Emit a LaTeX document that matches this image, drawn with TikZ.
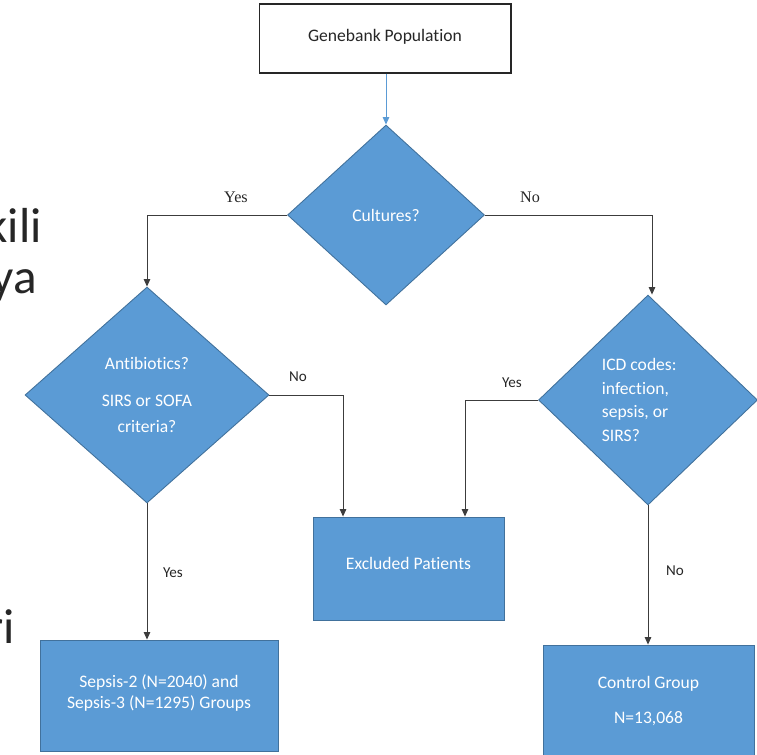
\documentclass[tikz,border=0pt]{standalone}
\usepackage{fontspec}
\setmainfont{Carlito}[Ligatures=NoCommon]
\newfontfamily\serifnote{Liberation Serif}
\usetikzlibrary{shapes.geometric, arrows.meta}
\definecolor{cFill}{RGB}{91,155,213}
\definecolor{cEdge}{RGB}{65,113,156}
\definecolor{cLine}{RGB}{60,60,60}
\definecolor{cInk}{RGB}{38,38,38}
\tikzset{
	startbox/.style={rectangle, draw=cInk, fill=white, line width=0.6pt, minimum width=5.04cm, minimum height=1.38cm, text centered, align=center, text=cInk},
	bluebox/.style ={rectangle, draw=cEdge, fill=cFill, line width=0.5pt, text centered, align=center, text=white},
	decision/.style={diamond, draw=cEdge, fill=cFill, line width=0.5pt, inner sep=1pt, text=white},
	flowarrow/.style={-{Triangle[length=1.5mm, width=1.3mm]}, draw=cLine, line width=0.55pt},
	bluearrow/.style={-{Triangle[length=1.5mm, width=1.3mm]}, draw=cFill, line width=0.55pt},
	sidenote/.style={font=\fontsize{8.6}{10}\selectfont, text=cInk, inner sep=0pt},
	topnote/.style={font=\serifnote\fontsize{9.2}{11}\selectfont, text=cInk, inner sep=0pt},
	% cut-off slide words at the left edge
	slideword/.style={font=\fontsize{28}{34}\selectfont, text=cInk, inner sep=0pt, anchor=base east},
}

\begin{document}
\begin{tikzpicture}[x=0.02cm, y=-0.02cm, font=\fontsize{10}{13.6}\selectfont]
	\useasboundingbox (0,0) rectangle (757,754);
	\clip (0,0) rectangle (757,754);

	\node[slideword] (frag1) at (42,242) {kili};
	\node[slideword] (frag2) at (37,293) {ya};
	\node[slideword] (frag3) at (15,643) {ri};

	\node[startbox] (gene) at (385,38.5) {\raisebox{3pt}{Genebank Population}};
	\node[decision, minimum width=3.94cm, minimum height=3.6cm] (cult) at (386,215) {Cultures?};
	\node[decision, minimum width=4.88cm, minimum height=4.32cm, align=center] (abx) at (147,395)
		{Antibiotics?\\[7.4pt]SIRS or SOFA\\[0.8pt]criteria?};
	\node[decision, minimum width=4.38cm, minimum height=4.2cm, align=left] (icd) at (648,400)
		{\hspace*{-10pt}\fontsize{10}{14.2}\selectfont ICD codes:\\\hspace*{-10pt}infection,\\\hspace*{-10pt}sepsis, or\\\hspace*{-10pt}SIRS?};

	\node[bluebox, minimum width=3.82cm, minimum height=2.06cm] (excl) at (408.5,568.5) {\raisebox{6pt}{Excluded Patients}};
	\node[bluebox, minimum width=4.76cm, minimum height=2.22cm] (grp) at (159,695.5)
		{\raisebox{4pt}{\shortstack{Sepsis-2 (N=2040) and\\Sepsis-3 (N=1295) Groups}}};
	\node[bluebox, minimum width=4.22cm, minimum height=2.24cm] (ctrl) at (648.5,701)
		{\raisebox{8.5pt}{\begin{tabular}{@{}c@{}}Control Group\\[6pt]N=13,068\end{tabular}}};

	\draw[bluearrow] (gene.south -| cult.north) -- (cult.north);
	\draw[flowarrow] (cult.west) -| (abx.north);
	\draw[flowarrow] (cult.east) -| ([xshift=0.08cm]icd.north);
	\draw[flowarrow] (abx.east) -| ([xshift=-1.31cm]excl.north);
	\draw[flowarrow] (icd.west) -| ([xshift=1.13cm]excl.north);
	\draw[flowarrow] (abx.south) -- (abx.south |- grp.north);
	\draw[flowarrow] (icd.south) -- (icd.south |- ctrl.north);

	\node[topnote] (yesA) at (236,197) {Yes};
	\node[topnote] (noA) at (530,197) {No};
	\node[sidenote] (noB) at (298,377) {No};
	\node[sidenote] (yesB) at (512,383) {Yes};
	\node[sidenote] (yesC) at (173,573) {Yes};
	\node[sidenote] (noC) at (675,571) {No};
\end{tikzpicture}
\end{document}
